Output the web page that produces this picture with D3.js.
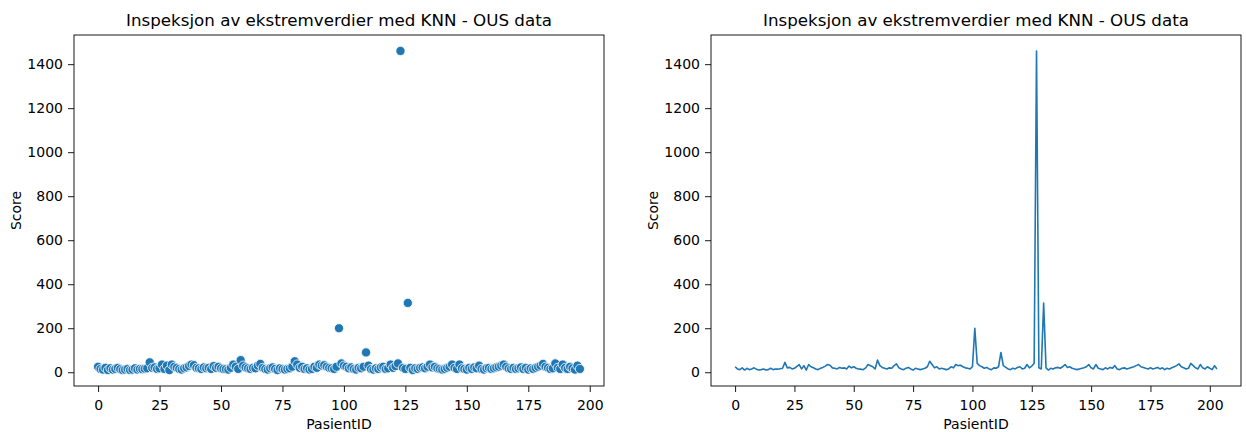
<!DOCTYPE html>
<html><head><meta charset="utf-8">
<script src="https://cdn.jsdelivr.net/npm/d3@7"></script>
<style>
body{margin:0;background:#fff;}
svg text{font-family:"DejaVu Sans",sans-serif;fill:#000;}
</style></head>
<body><svg id="c" width="1246" height="432"></svg>
<script>
const title = "Inspeksjon av ekstremverdier med KNN - OUS data";
const xLabel = "PasientID";
const yLabel = "Score";
const xTicks = [0,25,50,75,100,125,150,175,200];
const yTicks = [0,200,400,600,800,1000,1200,1400];
const scores = [
25,15,12,20,10,18,12,15,20,14,10,12,15,10,12,18,12,15,14,16,
18,45,20,22,15,18,35,15,30,10,35,25,20,15,12,18,22,28,35,32,
20,18,15,22,18,20,15,28,20,25,18,15,14,12,20,35,25,15,55,30,
22,18,15,20,18,30,38,20,15,12,18,22,15,10,18,15,12,15,18,25,
50,35,20,25,15,18,12,15,25,20,35,30,32,25,20,18,15,25,200,40,
30,25,18,22,15,12,20,18,25,90,30,15,12,18,15,22,25,15,18,35,
20,28,40,1460,20,15,315,20,10,18,15,20,22,18,25,35,22,25,18,15,
12,15,20,25,35,20,15,35,18,15,12,20,15,22,18,30,15,12,18,20,
15,18,22,25,30,35,25,18,15,20,15,18,22,15,20,12,18,15,20,25,
30,38,25,20,15,18,40,20,15,35,20,15,25,18,12,30,15];
// row index used by the scatter (left)
const rowIndex = scores.map((_,i)=>i);
// patient IDs used by the line plot (right) – some IDs absent
const patientIds = [
0,1,2,3,4,5,6,7,8,9,10,11,12,13,14,15,16,17,18,19,
20,21,22,23,24,25,27,28,29,30,31,32,33,34,35,36,37,38,39,40,
41,42,43,44,45,46,47,48,49,50,51,52,53,54,55,56,58,59,60,61,
62,63,64,65,66,67,68,69,70,71,72,73,74,75,76,77,78,79,80,81,
82,83,84,85,86,87,89,90,91,92,93,94,95,96,97,98,99,100,101,102,
103,104,105,106,107,108,109,110,111,112,113,115,116,117,118,119,120,121,122,123,
124,125,126,127,128,129,130,131,132,133,134,135,136,137,138,139,140,141,142,143,
144,145,147,148,149,150,151,152,153,154,155,156,157,158,159,160,161,162,163,164,
165,166,167,168,169,170,171,173,174,175,176,177,178,179,180,181,182,183,184,185,
186,187,188,189,190,191,192,194,195,196,197,198,199,200,201,202,203];

const svg = d3.select("#c");
const color = "#1f77b4";
const plotTop = 35, plotBottom = 386;
const panels = [
  {x0:74, x1:604, kind:"scatter", xs: rowIndex},
  {x0:711, x1:1241, kind:"line", xs: patientIds}
];

const ymin = d3.min(scores), ymax = d3.max(scores), ypad = (ymax-ymin)*0.05;

panels.forEach(p=>{
  const data = p.xs.map((id,i)=>({id, v: scores[i]}));
  const xmin = d3.min(p.xs), xmax = d3.max(p.xs), xpad = (xmax-xmin)*0.05;
  const x = d3.scaleLinear().domain([xmin-xpad, xmax+xpad]).range([p.x0, p.x1]);
  const y = d3.scaleLinear().domain([ymin-ypad, ymax+ypad]).range([plotBottom, plotTop]);
  const g = svg.append("g");

  const xa = g.append("g").attr("transform",`translate(0,${plotBottom})`)
    .call(d3.axisBottom(x).tickValues(xTicks).tickSize(6).tickPadding(8).tickFormat(d3.format("d")));
  const ya = g.append("g").attr("transform",`translate(${p.x0},0)`)
    .call(d3.axisLeft(y).tickValues(yTicks).tickSize(6).tickPadding(5).tickFormat(d3.format("d")));
  [xa,ya].forEach(a=>{
    a.select(".domain").remove();
    a.selectAll("text").style("font-size","14px").style("font-family","DejaVu Sans");
    a.selectAll("line").attr("stroke","#000").attr("stroke-width",0.9);
  });

  const cp = "clip"+p.kind;
  svg.append("clipPath").attr("id",cp).append("rect")
    .attr("x",p.x0).attr("y",plotTop).attr("width",p.x1-p.x0).attr("height",plotBottom-plotTop);

  if(p.kind==="scatter"){
    g.append("g").selectAll("circle").data(data).join("circle")
      .attr("cx",d=>x(d.id)).attr("cy",d=>y(d.v)).attr("r",4.6)
      .attr("fill",color).attr("stroke","#fff").attr("stroke-width",0.8);
  } else {
    g.append("path").datum(data)
      .attr("d", d3.line().x(d=>x(d.id)).y(d=>y(d.v)))
      .attr("fill","none").attr("stroke",color).attr("stroke-width",1.6)
      .attr("stroke-linejoin","round").attr("clip-path",`url(#${cp})`);
  }

  g.append("rect").attr("x",p.x0).attr("y",plotTop).attr("width",p.x1-p.x0).attr("height",plotBottom-plotTop)
    .attr("fill","none").attr("stroke","#000").attr("stroke-width",0.9);

  g.append("text").attr("x",(p.x0+p.x1)/2).attr("y",plotTop-9).attr("text-anchor","middle")
    .style("font-size","16.7px").text(title);
  g.append("text").attr("x",(p.x0+p.x1)/2).attr("y",plotBottom+43).attr("text-anchor","middle")
    .style("font-size","14px").text(xLabel);
  g.append("text").attr("transform",`translate(${p.x0-53},${(plotTop+plotBottom)/2}) rotate(-90)`)
    .attr("text-anchor","middle").style("font-size","14px").text(yLabel);
});
</script></body></html>
